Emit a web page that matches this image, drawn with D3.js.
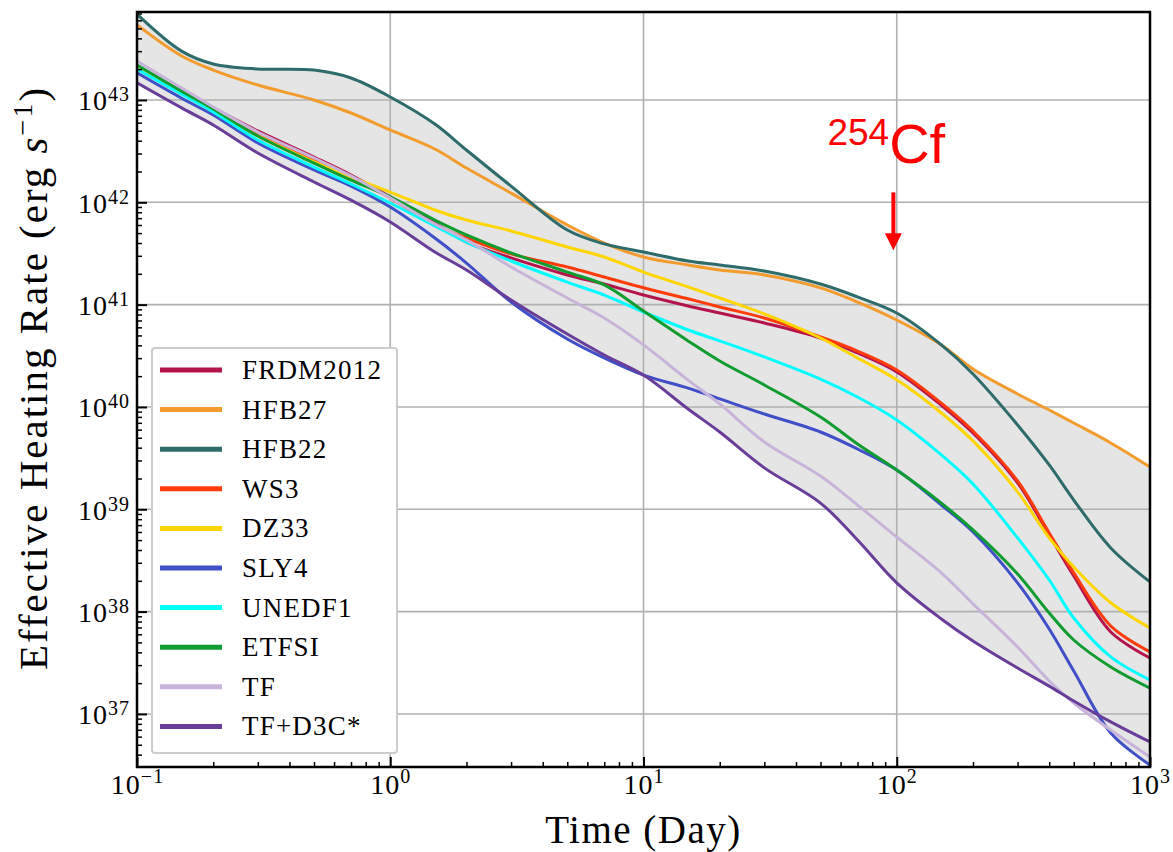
<!DOCTYPE html>
<html>
<head>
<meta charset="utf-8">
<script src="https://cdn.jsdelivr.net/npm/d3@7"></script>
<style>
  body { margin: 0; background: #fff; }
  text { font-family: "Liberation Serif", "DejaVu Serif", serif; }
</style>
</head>
<body>
<script>
// time grid (days)
var days = [0.1, 0.15, 0.2, 0.3, 0.5, 0.7, 1, 1.5, 2, 3, 5, 7, 10, 15, 20, 30, 50, 70, 100, 150, 200, 300, 400, 500, 700, 1000];

// effective heating rate (erg/s)
var frdm2012 = [2.15e43, 1.22e43, 8.36e42, 4.98e42, 2.77e42, 1.85e42, 1.13e42, 6.28e41, 4.09e41, 2.86e41, 1.95e41, 1.59e41, 1.24e41, 9.70e40, 8.28e40, 6.62e40, 4.72e40, 3.37e40, 2.20e40, 1.04e40, 5.57e39, 1.81e39, 5.61e38, 2.23e38, 6.32e37, 3.52e37];
var hfb27 = [5.41e43, 2.69e43, 1.96e43, 1.40e43, 1.00e43, 7.46e42, 5.09e42, 3.32e42, 2.16e42, 1.23e42, 6.00e41, 4.00e41, 2.92e41, 2.44e41, 2.18e41, 1.95e41, 1.46e41, 1.06e41, 7.08e40, 4.04e40, 2.35e40, 1.34e40, 9.33e39, 6.97e39, 4.45e39, 2.59e39];
var hfb22 = [6.90e43, 3.00e43, 2.25e43, 2.01e43, 1.96e43, 1.64e43, 1.07e43, 5.82e42, 3.24e42, 1.44e42, 5.36e41, 3.92e41, 3.27e41, 2.67e41, 2.44e41, 2.13e41, 1.59e41, 1.19e41, 8.28e40, 4.04e40, 2.10e40, 6.67e39, 2.71e39, 1.23e39, 4.19e38, 1.95e38];
var ws3 = [2.10e43, 1.20e43, 7.98e42, 4.75e42, 2.65e42, 1.77e42, 1.10e42, 6.00e41, 4.48e41, 3.13e41, 2.33e41, 1.86e41, 1.46e41, 1.14e41, 9.48e40, 7.40e40, 4.83e40, 3.52e40, 2.30e40, 1.09e40, 5.82e39, 1.89e39, 5.87e38, 2.39e38, 7.24e37, 4.04e37];
var dz33 = [2.05e43, 1.17e43, 7.80e42, 4.45e42, 2.48e42, 1.77e42, 1.26e42, 8.41e41, 6.71e41, 5.25e41, 3.66e41, 2.92e41, 2.08e41, 1.49e41, 1.16e41, 8.11e40, 4.72e40, 3.01e40, 1.84e40, 8.73e39, 4.66e39, 1.48e39, 5.25e38, 2.73e38, 1.22e38, 6.92e37];
var sly4 = [1.84e43, 1.04e43, 7.13e42, 3.80e42, 2.07e42, 1.44e42, 8.99e41, 4.48e41, 2.55e41, 1.06e41, 4.61e40, 3.01e40, 2.05e40, 1.53e40, 1.20e40, 8.53e39, 5.69e39, 3.88e39, 2.42e39, 1.10e39, 6.00e38, 1.91e38, 6.76e37, 2.63e37, 6.52e36, 3.17e36];
var unedf1 = [2.01e43, 1.14e43, 7.64e42, 4.06e42, 2.21e42, 1.51e42, 9.84e41, 5.87e41, 4.09e41, 2.67e41, 1.66e41, 1.24e41, 8.47e40, 5.65e40, 4.42e40, 3.08e40, 1.87e40, 1.25e40, 7.46e39, 3.40e39, 1.77e39, 5.25e38, 2.04e38, 8.67e37, 3.61e37, 2.15e37];
var etfsi = [2.20e43, 1.22e43, 8.17e42, 4.45e42, 2.42e42, 1.65e42, 1.13e42, 6.71e41, 4.80e41, 3.20e41, 2.08e41, 1.56e41, 8.67e40, 4.42e40, 2.81e40, 1.64e40, 7.98e39, 4.35e39, 2.42e39, 1.15e39, 6.28e38, 2.33e38, 9.70e37, 5.28e37, 2.88e37, 1.79e37];
var tf = [2.40e43, 1.31e43, 8.53e42, 4.86e42, 2.71e42, 1.81e42, 1.10e42, 6.14e41, 4.29e41, 2.33e41, 1.16e41, 7.40e40, 4.04e40, 1.83e40, 1.07e40, 4.55e39, 2.11e39, 1.10e39, 5.36e38, 2.39e38, 1.19e38, 4.51e37, 2.10e37, 1.28e37, 6.97e36, 3.80e36];
var tfD3c = [1.47e43, 8.36e42, 5.70e42, 3.03e42, 1.58e42, 1.05e42, 6.43e41, 3.27e41, 2.18e41, 1.11e41, 5.16e40, 3.22e40, 2.05e40, 9.55e39, 5.69e39, 2.54e39, 1.15e39, 5.01e38, 1.91e38, 8.47e37, 5.16e37, 2.81e37, 1.87e37, 1.34e37, 8.36e36, 5.32e36];

var seriesNames = ["FRDM2012", "HFB27", "HFB22", "WS3", "DZ33", "SLY4", "UNEDF1", "ETFSI", "TF", "TF+D3C*"];
var seriesValues = [frdm2012, hfb27, hfb22, ws3, dz33, sly4, unedf1, etfsi, tf, tfD3c];
var seriesColors = ["#b5134c", "#f39b2c", "#2e6b6b", "#ff3b0a", "#ffd500", "#3f4fc8", "#00ffff", "#0f9d2f", "#c8b4da", "#6a3d9a"];

// ticks
var xTickValues = [0.1, 1, 10, 100, 1000];
var xTickExps = ["\u22121", "0", "1", "2", "3"];
var yTickValues = [1e37, 1e38, 1e39, 1e40, 1e41, 1e42, 1e43];
var yTickExps = ["37", "38", "39", "40", "41", "42", "43"];

// 254Cf annotation
var cfDay = 97, cfTail = 1.25e42, cfTip = 3.4e41;

// margins
var margin = {top: 12, right: 23, bottom: 85, left: 137},
    width = 1173 - margin.left - margin.right,
    height = 852 - margin.top - margin.bottom;

var svg = d3.select("body")
  .append("svg")
    .attr("width", width + margin.left + margin.right)
    .attr("height", height + margin.top + margin.bottom);

var chart = svg.append("g")
  .attr("transform", "translate(" + margin.left + "," + margin.top + ")");

var x = d3.scaleLog().domain([0.1, 1000]).range([0, width]);
var y = d3.scaleLog().domain([3.03e36, 7.24e43]).range([height, 0]);

chart.append("clipPath").attr("id", "plot-clip")
  .append("rect").attr("width", width).attr("height", height);

var series = seriesNames.map(function(name, i) {
  return {name: name, color: seriesColors[i], values: seriesValues[i]};
});

var smooth = d3.curveCatmullRom.alpha(0.5);

// grey band between the lowest and highest model
var band = days.map(function(t, i) {
  return {
    t: t,
    lo: d3.min(series, function(s) { return s.values[i]; }),
    hi: d3.max(series, function(s) { return s.values[i]; })
  };
});
var area = d3.area()
  .x(function(d) { return x(d.t); })
  .y0(function(d) { return y(d.lo); })
  .y1(function(d) { return y(d.hi); })
  .curve(smooth);
chart.append("path")
  .datum(band)
  .attr("d", area)
  .attr("fill", "#e5e5e5")
  .attr("clip-path", "url(#plot-clip)");

// grid
var grid = chart.append("g").attr("stroke", "#b0b0b0").attr("stroke-width", 1.6);
grid.selectAll("line.gx").data(xTickValues).enter().append("line")
  .attr("class", "gx")
  .attr("x1", function(d) { return x(d); }).attr("x2", function(d) { return x(d); })
  .attr("y1", 0).attr("y2", height);
grid.selectAll("line.gy").data(yTickValues).enter().append("line")
  .attr("class", "gy")
  .attr("y1", function(d) { return y(d); }).attr("y2", function(d) { return y(d); })
  .attr("x1", 0).attr("x2", width);

// curves
var line = d3.line()
  .x(function(d, i) { return x(days[i]); })
  .y(function(d) { return y(d); })
  .curve(smooth);
chart.append("g")
  .attr("clip-path", "url(#plot-clip)")
  .selectAll("path")
  .data(series)
  .enter()
  .append("path")
    .attr("d", function(d) { return line(d.values); })
    .attr("fill", "none")
    .attr("stroke", function(d) { return d.color; })
    .attr("stroke-width", 3)
    .attr("stroke-linejoin", "round");

// minor tick positions
var xMinor = [];
xTickValues.slice(0, -1).forEach(function(d) {
  for (var k = 2; k < 10; k++) xMinor.push(d * k);
});
var yMinor = [];
[1e36].concat(yTickValues).forEach(function(d) {
  for (var k = 2; k < 10; k++) {
    if (d * k >= y.domain()[0] && d * k <= y.domain()[1]) yMinor.push(d * k);
  }
});

function cleanAxis(g) {
  g.select(".domain").remove();
  g.selectAll(".tick line").attr("stroke", "#000");
}

// x axis
chart.append("g")
  .attr("transform", "translate(0," + height + ")")
  .call(d3.axisBottom(x).tickValues(xMinor).tickSize(-5).tickFormat(""))
  .call(cleanAxis)
  .selectAll(".tick line").attr("stroke-width", 1.5);

var xAxisG = chart.append("g")
  .attr("transform", "translate(0," + height + ")")
  .call(d3.axisBottom(x).tickValues(xTickValues).tickSize(-10).tickFormat(""))
  .call(cleanAxis);
xAxisG.selectAll(".tick line").attr("stroke-width", 2);
xAxisG.selectAll(".tick text").each(function(d, i) {
  var t = d3.select(this)
    .attr("y", 27).attr("dy", null)
    .attr("fill", "#000")
    .attr("text-anchor", "middle")
    .style("font-size", "28px").style("letter-spacing", "1px");
  t.append("tspan").text("10");
  t.append("tspan").attr("dy", -11).style("font-size", "20px").text(xTickExps[i]);
});

// y axis
chart.append("g")
  .call(d3.axisLeft(y).tickValues(yMinor).tickSize(-5).tickFormat(""))
  .call(cleanAxis)
  .selectAll(".tick line").attr("stroke-width", 1.5);

var yAxisG = chart.append("g")
  .call(d3.axisLeft(y).tickValues(yTickValues).tickSize(-10).tickFormat(""))
  .call(cleanAxis);
yAxisG.selectAll(".tick line").attr("stroke-width", 2);
yAxisG.selectAll(".tick text").each(function(d, i) {
  var t = d3.select(this)
    .attr("x", -7).attr("y", 10).attr("dy", null)
    .attr("fill", "#000")
    .attr("text-anchor", "end")
    .style("font-size", "28px").style("letter-spacing", "1px");
  t.append("tspan").text("10");
  t.append("tspan").attr("dy", -9).style("font-size", "20px").text(yTickExps[i]);
});

// 254Cf arrow
var ax = x(cfDay), tailY = y(cfTail), tipY = y(cfTip);
chart.append("line")
  .attr("x1", ax).attr("x2", ax)
  .attr("y1", tailY).attr("y2", tipY - 15)
  .attr("stroke", "#ff0000").attr("stroke-width", 4);
chart.append("path")
  .attr("d", "M" + (ax - 8.5) + "," + (tipY - 17) + "L" + (ax + 8.5) + "," + (tipY - 17) + "L" + ax + "," + tipY + "Z")
  .attr("fill", "#ff0000");
var cf = chart.append("text")
  .attr("x", ax - 66).attr("y", tailY - 29)
  .attr("fill", "#ff0000")
  .style("font-family", "'Liberation Sans', Arial, sans-serif");
cf.append("tspan").attr("dy", -18).style("font-size", "37px").text("254");
cf.append("tspan").attr("dy", 18).style("font-size", "56px").text("Cf");

// legend
var legend = svg.append("g");
legend.append("rect")
  .attr("x", 152).attr("y", 348).attr("width", 245).attr("height", 405)
  .attr("rx", 3)
  .attr("fill", "#fff").attr("stroke", "#cccccc").attr("stroke-width", 2);
series.forEach(function(s, i) {
  var ly = 370 + i * 39.6;
  legend.append("line")
    .attr("x1", 160).attr("x2", 222).attr("y1", ly).attr("y2", ly)
    .attr("stroke", s.color).attr("stroke-width", 5);
  legend.append("text")
    .attr("x", 242).attr("y", ly + 9)
    .style("font-size", "27px").style("letter-spacing", "1.2px")
    .text(s.name);
});

// frame
chart.append("rect")
  .attr("width", width).attr("height", height)
  .attr("fill", "none").attr("stroke", "#000").attr("stroke-width", 2.5);

// axis titles
svg.append("text")
  .attr("x", margin.left + x(10)).attr("y", 843)
  .attr("text-anchor", "middle")
  .style("font-size", "39px").style("letter-spacing", "1.5px")
  .text("Time (Day)");

var yTitle = svg.append("text")
  .attr("transform", "translate(47,378) rotate(-90)")
  .attr("text-anchor", "middle")
  .style("font-size", "41px").style("letter-spacing", "2px");
yTitle.append("tspan").text("Effective Heating Rate (erg ");
yTitle.append("tspan").style("font-style", "italic").text("s");
yTitle.append("tspan").attr("dy", -15).style("font-size", "28px").text("\u22121");
yTitle.append("tspan").attr("dy", 15).text(")");
</script>
</body>
</html>
